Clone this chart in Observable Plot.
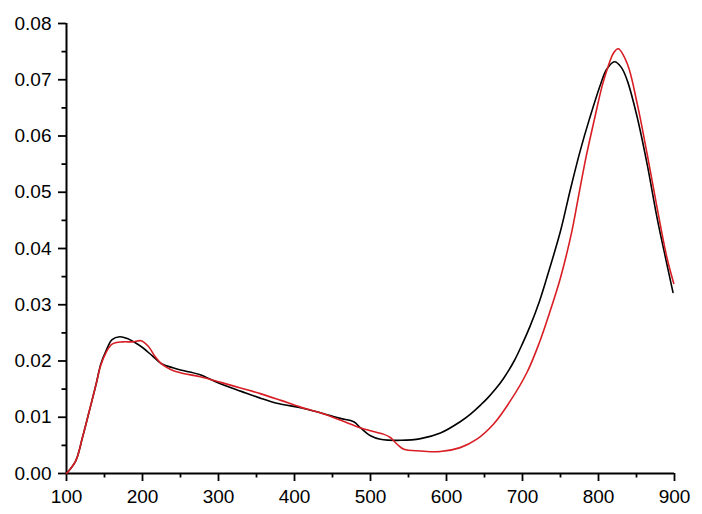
<!DOCTYPE html>
<html><head><meta charset="utf-8">
<script src="https://cdn.jsdelivr.net/npm/d3@7"></script>
<script src="https://cdn.jsdelivr.net/npm/@observablehq/plot@0.6"></script>
<style>body{margin:0;background:#fff}</style>
</head><body><div id="chart"></div>
<script>
const blackX = [100,112,121,130,139,145,152,160,170,180,190,200,213,225,240,250,275,300,330,355,380,408,434,460,478,487,500,513,540,566,592,618,632,645,654,665,675,689,700,710,722,732,750,763,776,788,803,811,821,830,838,851,864,877,890,898];
const blackY = [0,0.0022,0.0064,0.0111,0.0159,0.0194,0.0218,0.0238,0.0243,0.0240,0.0233,0.0224,0.0209,0.0195,0.0188,0.0184,0.0176,0.0161,0.0146,0.0134,0.0124,0.0117,0.0108,0.0098,0.0092,0.0081,0.0067,0.0061,0.0059,0.0062,0.0072,0.0092,0.0106,0.0122,0.0134,0.0151,0.0169,0.0200,0.0231,0.0262,0.0305,0.0348,0.0431,0.0505,0.0574,0.0630,0.0693,0.0719,0.0732,0.0722,0.0698,0.0633,0.0550,0.0455,0.0372,0.0322];
const redX = [100,112,121,130,139,145,152,160,174,187,198,207,217,225,237,250,276,303,329,355,382,408,434,460,487,500,517,526,535,544,566,592,618,640,662,684,706,722,733,750,765,774,784,795,805,813,820,826,838,851,864,877,890,899];
const redY = [0,0.0022,0.0064,0.0111,0.0159,0.0192,0.0215,0.0230,0.0234,0.0234,0.0236,0.0227,0.0207,0.0195,0.0185,0.0179,0.0172,0.0162,0.0152,0.0142,0.0130,0.0118,0.0108,0.0095,0.0081,0.0076,0.0070,0.0064,0.0052,0.0043,0.0040,0.0039,0.0046,0.0061,0.0088,0.0129,0.0180,0.0232,0.0275,0.0348,0.0431,0.0495,0.0565,0.0632,0.0690,0.0725,0.0748,0.0755,0.0728,0.0657,0.0568,0.0473,0.0384,0.0338];
const xTicks = [100,200,300,400,500,600,700,800,900];
const xMinorTicks = [150,250,350,450,550,650,750,850];
const yTicks = [0,0.01,0.02,0.03,0.04,0.05,0.06,0.07,0.08];
const yMinorTicks = [0.005,0.015,0.025,0.035,0.045,0.055,0.065,0.075];

const black = blackX.map((x,i)=>({x, y: blackY[i]}));
const red = redX.map((x,i)=>({x, y: redY[i]}));

const chart = Plot.plot({
  width: 702, height: 514,
  marginLeft: 66, marginRight: 28, marginTop: 23, marginBottom: 41,
  style: {fontFamily: "'Liberation Sans', Arial, sans-serif", fontSize: "19px", color: "#000", background: "#fff"},
  x: {domain: [100, 900]},
  y: {domain: [0, 0.08]},
  marks: [
    Plot.axisX(xTicks, {tickSize: 8, tickPadding: 8, strokeWidth: 1.8, tickFormat: d => String(d), label: null, fontSize: 19}),
    Plot.axisX(xMinorTicks, {tickSize: 4.5, strokeWidth: 1.8, tickFormat: () => "", label: null}),
    Plot.axisY(yTicks, {tickSize: 8, tickPadding: 7, strokeWidth: 1.8, tickFormat: d3.format(".2f"), label: null, fontSize: 19}),
    Plot.axisY(yMinorTicks, {tickSize: 4.5, strokeWidth: 1.8, tickFormat: () => "", label: null}),
    Plot.ruleX([100], {stroke: "#000", strokeWidth: 2}),
    Plot.ruleY([0], {stroke: "#000", strokeWidth: 2}),
    Plot.line(black, {x: "x", y: "y", stroke: "#000", strokeWidth: 1.6, curve: "catmull-rom"}),
    Plot.line(red, {x: "x", y: "y", stroke: "#d81e24", strokeWidth: 1.6, curve: "catmull-rom"})
  ]
});
document.getElementById("chart").appendChild(chart);
</script>
</body></html>
